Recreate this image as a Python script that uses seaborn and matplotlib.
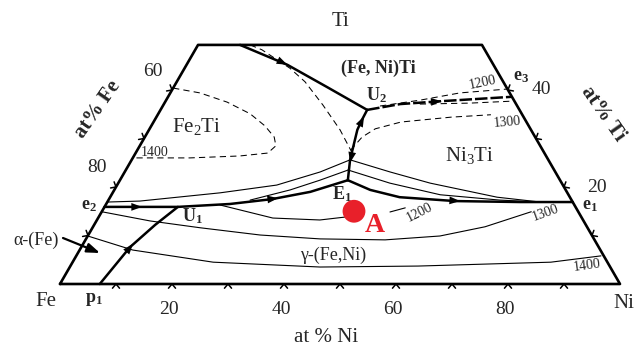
import numpy as np
import seaborn as sns
import matplotlib.pyplot as plt

# --- liquidus projection of Fe-Ni-Ti, compositions as (at% Ni, at% Ti)
frame_ni = [0, 100, 50.7, 0, 0]
frame_ti = [0, 0, 49.3, 49.3, 0]

# univariant lines (thick)
top_u2_ni = [7.5, 18.0, 27.4, 36.9]
top_u2_ti = [49.3, 45.2, 40.6, 35.9]
u2_e3_ni = [36.9, 42.2, 49.3, 61.4]
u2_e3_ti = [35.9, 37.1, 37.7, 38.6]
e1_u2_ni = [40.7, 39.0, 37.2, 37.0, 36.9]
e1_u2_ti = [21.4, 25.6, 31.8, 33.8, 35.9]
e2_e1_ni = [0, 13.1, 22.1, 29.1, 35.2, 40.7]
e2_e1_ti = [15.9, 15.9, 16.5, 17.5, 19.0, 21.4]
e1_edge_ni = [40.7, 45.7, 51.7, 62.0, 73.7, 83.1]
e1_edge_ti = [21.4, 19.4, 17.9, 17.1, 16.9, 16.9]
p1_u1_ni = [7.1, 8.7, 10.9, 13.1]
p1_u1_ti = [0, 7.6, 12.2, 15.9]

# thin boundary lines around the Ni3Ti field
upper_l_ni = [0, 5.7, 19.2, 28.5, 34.9, 39.0]
upper_l_ti = [16.9, 17.1, 18.8, 20.4, 23.1, 25.6]
upper_r_ni = [39.0, 47.4, 55.7, 69.1, 77.3, 83.1]
upper_r_ti = [25.6, 23.1, 20.8, 17.9, 16.9, 16.9]
lower_l_ni = [25.3, 31.4, 35.7, 39.7]
lower_l_ti = [17.3, 19.4, 21.4, 23.5]
lower_r_ni = [39.7, 48.5, 58.7, 69.9, 77.3]
lower_r_ti = [23.5, 20.8, 18.4, 17.3, 16.9]

# isotherms in the gamma field (solid)
iso1200_ni = [20.4, 31.2, 39.8, 44.0]
iso1200_ti = [16.3, 13.6, 13.2, 13.8]
iso1200b_ni = [51.5, 53.8]
iso1200b_ti = [14.85, 15.7]
iso1300_ni = [0, 9.6, 19.2, 30.7, 41.8, 53.5, 62.9, 70.0, 76.7]
iso1300_ti = [14.9, 13.0, 11.6, 10.1, 9.3, 9.1, 9.9, 11.8, 14.9]
iso1400_ni = [0, 9.5, 25.1, 44.7, 62.1, 85.4, 93.7]
iso1400_ti = [9.9, 7.0, 4.5, 3.5, 3.7, 4.5, 5.8]

# isotherms in the intermetallic fields (dashed)
fe2ti_1400_ni = [0, 5.3, 11.1, 16.4, 20.3, 23.1, 24.3, 23.6, 18.9, 10.2, 0.5]
fe2ti_1400_ti = [40.4, 39.4, 37.5, 35.1, 32.6, 30.3, 28.5, 27.0, 26.4, 26.0, 26.0]
feniti_ni = [9.3, 11.9, 18.8, 22.9, 28.5, 34.1, 38.5]
feniti_ti = [49.3, 48.3, 44.5, 41.7, 36.9, 31.8, 27.2]
ni3ti_1300_ni = [38.1, 38.8, 40.3, 44.2, 52.6, 59.5]
ni3ti_1300_ti = [27.6, 30.3, 32.0, 33.4, 34.4, 34.9]
ni3ti_1200a_ni = [38.8, 45.3, 51.7, 59.8]
ni3ti_1200a_ti = [36.7, 37.9, 39.4, 40.2]
ni3ti_1200b_ni = [45.7, 54.6, 61.8]
ni3ti_1200b_ti = [37.1, 37.3, 37.7]

# arrows on the univariant lines: tail -> head
arrow_tail_ni = [15.2, 42.2, 37.2, 37.8, 0, 22.1, 51.7, 7.1]
arrow_tail_ti = [46.4, 37.1, 31.8, 29.7, 15.9, 16.5, 17.9, 0]
arrow_head_ni = [18.0, 49.3, 37.0, 39.3, 6.7, 30.1, 62.9, 8.9]
arrow_head_ti = [45.2, 37.7, 34.6, 25.0, 15.9, 17.7, 17.1, 8.3]

# alloy A
alloy_ni = [45]
alloy_ti = [15]

tick_values = [10, 20, 30, 40, 50, 60, 70, 80, 90]
side_ticks = [10, 20, 30, 40]
bottom_labels = [20, 40, 60, 80]


def to_xy(ni, ti):
    ni = np.asarray(ni, dtype=float)
    ti = np.asarray(ti, dtype=float)
    return ni + ti / 2, ti * np.sqrt(3) / 2


def px(x, y):
    # pixel position on the canvas -> data units (5.6 px per at%)
    return (x - 60) / 5.6, (284 - y) / 5.6


def curve(ni, ti, lw=0.8, dashed=False):
    x, y = to_xy(ni, ti)
    kw = dict(linestyle=(0, (6, 4))) if dashed else {}
    sns.lineplot(x=x, y=y, sort=False, estimator=None, color="black",
                 lw=lw, ax=ax, **kw)


sns.set_theme(style="white")
plt.rcParams["font.family"] = ["Liberation Serif", "DejaVu Serif"]
plt.rcParams["mathtext.fontset"] = "custom"
plt.rcParams["mathtext.rm"] = "Liberation Serif"
plt.rcParams["mathtext.bf"] = "Liberation Serif:bold"
plt.rcParams["mathtext.it"] = "Liberation Serif:italic"

fig = plt.figure(figsize=(6.37, 3.5), dpi=100)
ax = fig.add_axes([0, 0, 1, 1])
ax.set_xlim(-60 / 5.6, 577 / 5.6)
ax.set_ylim(-66 / 5.6, 284 / 5.6)
ax.axis("off")

# --- frame and ticks
curve(frame_ni, frame_ti, lw=1.9)
s3 = np.sqrt(3) / 2
L, a = 5.5 / 5.6, np.radians(40)


def chevron(ni, ti, n, t):
    x0, y0 = to_xy(ni, ti)
    arms = [(x0 + L * (np.cos(a) * n[0] + sgn * np.sin(a) * t[0]),
             y0 + L * (np.cos(a) * n[1] + sgn * np.sin(a) * t[1])) for sgn in (-1, 1)]
    ax.plot([arms[0][0], x0, arms[1][0]], [arms[0][1], y0, arms[1][1]],
            color="black", lw=1.1)


for v in tick_values:
    chevron(v, 0, (0, -1), (1, 0))
for v in side_ticks:
    chevron(0, v, (-s3, 0.5), (0.5, s3))
    chevron(100 - v, v, (s3, 0.5), (-0.5, s3))

# --- lines
for ni, ti in [(top_u2_ni, top_u2_ti), (e1_u2_ni, e1_u2_ti), (e2_e1_ni, e2_e1_ti),
               (e1_edge_ni, e1_edge_ti), (p1_u1_ni, p1_u1_ti)]:
    curve(ni, ti, lw=1.8)
x, y = to_xy(u2_e3_ni, u2_e3_ti)
sns.lineplot(x=x, y=y, sort=False, estimator=None, color="black", lw=1.8,
             linestyle=(0, (5, 1.2)), ax=ax)

for ni, ti in [(upper_l_ni, upper_l_ti), (upper_r_ni, upper_r_ti),
               (lower_l_ni, lower_l_ti), (lower_r_ni, lower_r_ti),
               (iso1200_ni, iso1200_ti), (iso1200b_ni, iso1200b_ti),
               (iso1300_ni, iso1300_ti), (iso1400_ni, iso1400_ti)]:
    curve(ni, ti, lw=0.8)

for ni, ti in [(fe2ti_1400_ni, fe2ti_1400_ti), (feniti_ni, feniti_ti),
               (ni3ti_1300_ni, ni3ti_1300_ti), (ni3ti_1200a_ni, ni3ti_1200a_ti),
               (ni3ti_1200b_ni, ni3ti_1200b_ti)]:
    curve(ni, ti, lw=0.75, dashed=True)

tx, ty = to_xy(arrow_tail_ni, arrow_tail_ti)
hx, hy = to_xy(arrow_head_ni, arrow_head_ti)
for i in range(len(tx)):
    ax.annotate("", xy=(hx[i], hy[i]), xytext=(tx[i], ty[i]),
                arrowprops=dict(arrowstyle="-|>,head_length=0.55,head_width=0.2",
                                mutation_scale=14, color="black", lw=0,
                                shrinkA=0, shrinkB=0))

ax_, ay_ = to_xy(alloy_ni, alloy_ti)
sns.scatterplot(x=ax_, y=ay_, s=270, color="#e8202a", edgecolor="none", ax=ax, zorder=5)

# --- text
def label(x, y, s, size=14, **kw):
    ax.text(*px(x, y), s, ha="center", va="center", fontsize=size, **kw)


label(340, 22, "Ti", 15)
label(46, 301, "Fe", 15)
label(624, 304, "Ni", 15)
label(326, 337, "at % Ni", 15)
label(98, 109, "at% Fe", 15, weight="bold", rotation=55)
label(603, 114, "at% Ti", 15, weight="bold", rotation=-55)
label(153, 72, "60", 14)
label(97, 168, "80", 14)
label(541, 90, "40", 14)
label(597, 188, "20", 14)
for v in bottom_labels:
    bx, _ = to_xy(v, 0)
    ax.text(bx - 3 / 5.6, px(0, 310)[1], str(v), ha="center", va="center", fontsize=14)

label(378, 68, "(Fe, Ni)Ti", 13, weight="bold")
label(197, 127, r"Fe$_2$Ti", 15)
label(470, 156, r"Ni$_3$Ti", 15)
label(333, 255, "γ-(Fe,Ni)", 13)
label(36, 240, "α-(Fe)", 13)
ax.annotate("", xy=px(100, 253), xytext=px(63, 238),
            arrowprops=dict(arrowstyle="-|>,head_length=0.55,head_width=0.2",
                            mutation_scale=14, color="black", lw=1.6,
                            shrinkA=0, shrinkB=0))

for x, y, s in [(376, 95, "U_2"), (192, 216, "U_1"), (342, 194, "E_1"),
                (89, 206, "e_2"), (590, 206, "e_1"), (521, 76, "e_3"), (94, 299, "p_1")]:
    base, sub = s.split("_")
    label(x, y, r"$\mathbf{%s}_\mathbf{%s}$" % (base, sub), 13)

label(375, 225, "A", 20, weight="bold", color="#e8202a")

iso_size = 10
label(155, 153, "1400", iso_size)
label(483, 83, "1200", iso_size, rotation=12)
label(507, 122, "1300", iso_size, rotation=5)
label(420, 213, "1200", iso_size, rotation=27)
label(546, 213, "1300", iso_size, rotation=20)
label(587, 266, "1400", iso_size, rotation=8)

fig.savefig("out.png", dpi=100)
